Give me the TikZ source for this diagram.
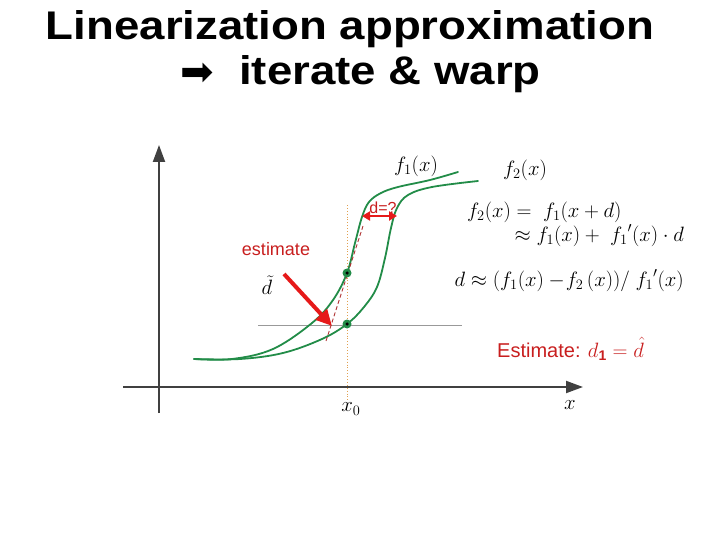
\documentclass[tikz,border=0pt]{standalone}
\usepackage{fontspec}
\setmainfont{Liberation Sans}
\newfontfamily\titlefont[FakeStretch=1.14]{Liberation Sans Bold}
\newfontfamily\symfont{DejaVu Sans}
\usetikzlibrary{arrows.meta}
\definecolor{curvegreen}{RGB}{34,140,72}
\definecolor{axisgray}{RGB}{64,64,64}
\definecolor{redtxt}{RGB}{200,30,30}
\definecolor{redarrow}{RGB}{230,25,25}
\definecolor{dotorange}{RGB}{225,160,80}
\definecolor{tangentred}{RGB}{175,50,50}
\tikzset{
  axis/.style={draw=axisgray, line width=2pt, -{Triangle[length=17pt,width=12pt]}},
  curve/.style={draw=curvegreen, line width=1.8pt, line cap=round},
  dotpt/.style={circle, fill=curvegreen, inner sep=0pt, minimum size=9pt},
  dotcore/.style={circle, fill=black, inner sep=0pt, minimum size=3.5pt},
  mathlbl/.style={font=\fontsize{20}{24}\selectfont, inner sep=0pt},
  eqlbl/.style={font=\fontsize{20}{24}\selectfont, inner sep=0pt},
  redlbl/.style={text=redtxt, inner sep=0pt},
}
\begin{document}
\begin{tikzpicture}[x=1pt,y=-1pt]
\useasboundingbox (0,0) rectangle (720,540);
% title
\node[font=\titlefont\fontsize{40}{48}\selectfont, anchor=base, inner sep=0pt] (title1) at (350,40) {Linearization approximation};
\node[font=\symfont\fontsize{40}{46}\selectfont, anchor=base west, inner sep=0pt] (tarrow) at (180,86) {➡};
\node[font=\titlefont\fontsize{40}{48}\selectfont, anchor=base west, inner sep=0pt] (title2) at (239,85) {iterate \& warp};
% axes
\coordinate (yb) at (159,413);
\coordinate (yt) at (159,145);
\coordinate (xl) at (123,387);
\coordinate (xr) at (583,387);
\draw[axis] (yb) -- (yt);
\draw[axis] (xl) -- (xr);
% guide lines
\coordinate (vt) at (347,205);
\coordinate (vb) at (347,402);
\draw[dotorange, line width=0.9pt, dotted] (vt) -- (vb);
\coordinate (hl) at (258,325);
\coordinate (hr) at (462,325);
\draw[gray!80, line width=0.9pt] (hl) -- (hr);
% curves
\draw[curve] plot[smooth, tension=0.6] coordinates {(194,359) (232,359) (273,349) (312,323) (333,300) (347,273) (355,243) (362,217) (369,202) (381,193) (398,187) (430,180) (458,172)};
\draw[curve] plot[smooth, tension=0.6] coordinates {(194,359) (240,359) (283,353) (322,339) (347,324) (364,307) (377,287) (385,258) (391,228) (397,208) (408,195) (432,187) (478,181)};
% tangent
\coordinate (ta) at (326,341);
\coordinate (tb) at (363,226);
\draw[tangentred, line width=0.9pt, dash pattern=on 4pt off 2.5pt] (ta) -- (tb);
% dots
\node[dotpt] (p1) at (347,273) {};
\node[dotcore] at (p1) {};
\node[dotpt] (p2) at (347,324) {};
\node[dotcore] at (p2) {};
% d=? arrow
\coordinate (dl) at (362,216);
\coordinate (dr) at (397,216);
\draw[redarrow, line width=2.8pt, {Triangle[length=8pt,width=9pt]}-{Triangle[length=8pt,width=9pt]}] (dl) -- (dr);
\node[redlbl, font=\fontsize{16}{18}\selectfont] (dq) at (383,208) {d=?};
% labels
\node[mathlbl] (f1) at (416,166) {$f_1(x)$};
\node[mathlbl] (f2) at (525,170) {$f_2(x)$};
\node[mathlbl, font=\fontsize{22}{26}\selectfont] (x0) at (351,409) {$x_0$};
\node[mathlbl, font=\fontsize{22}{26}\selectfont] (xx) at (570,405) {$x$};
\node[redlbl, font=\fontsize{18}{21}\selectfont] (est) at (276,249) {estimate};
\node[mathlbl, font=\fontsize{22}{26}\selectfont] (dt) at (267,285) {$\tilde{d}$};
\coordinate (as) at (284,274);
\coordinate (ae) at (332,326);
\draw[redarrow, line width=4pt, -{Triangle[length=16pt,width=15pt]}] (as) -- (ae);
% equations
\node[eqlbl, anchor=west] (e1) at (467,212) {$f_2(x) = \ f_1(x+d)$};
\node[eqlbl, anchor=east] (e2) at (684,236) {$\approx f_1(x) + \ {f_1}'(x)\cdot d$};
\node[eqlbl, anchor=east] (e3) at (684,281) {$d \approx (f_1(x) - \!f_2\,(x))/\ {f_1}'(x)$};
\node[redlbl, anchor=west, font=\fontsize{20}{24}\selectfont] (e4) at (497,349) {Estimate: $d_{\mathbf{1}} = \hat{d}$};
\end{tikzpicture}
\end{document}
